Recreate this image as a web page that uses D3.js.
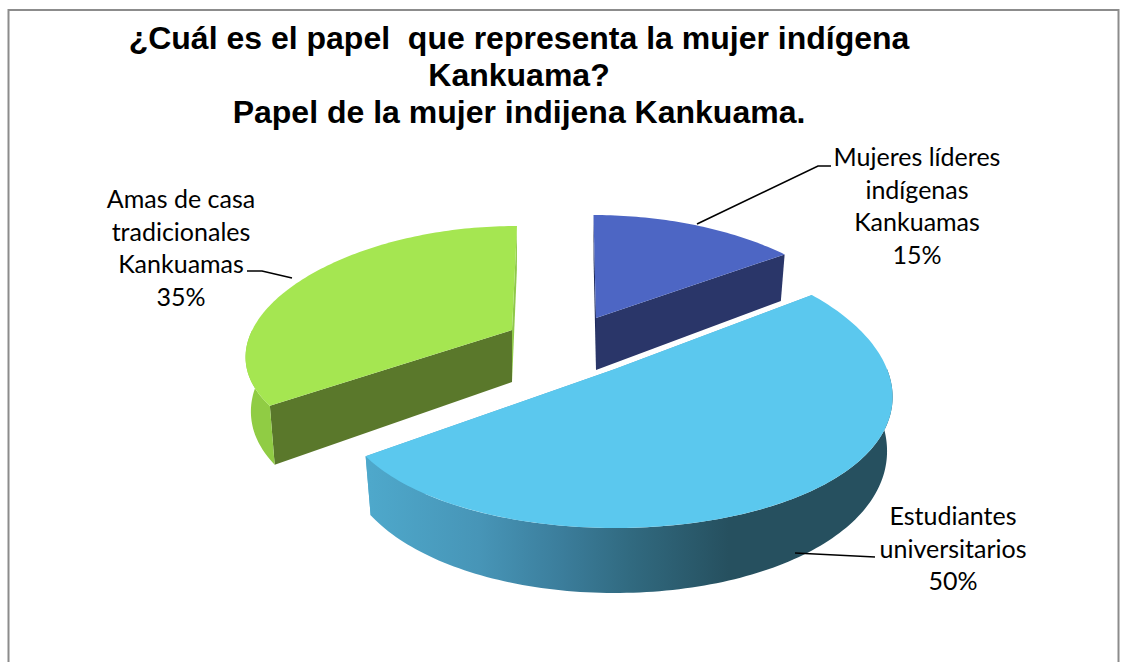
<!DOCTYPE html>
<html>
<head>
<meta charset="utf-8">
<script src="https://cdn.jsdelivr.net/npm/d3@7"></script>
<style>
  html, body { margin: 0; padding: 0; background: #fff; }
  svg { display: block; }
  text { white-space: pre; }
</style>
</head>
<body>
<div id="chartDiv"></div>
<script>
var titleLines = ["¿Cuál es el papel  que representa la mujer indígena", "Kankuama?", "Papel de la mujer indijena Kankuama."];
var categories = ["Mujeres líderes indígenas Kankuamas", "Estudiantes universitarios", "Amas de casa tradicionales Kankuamas"];
var values = [15, 50, 35];
var labelLines = [["Mujeres líderes", "indígenas", "Kankuamas"], ["Estudiantes", "universitarios"], ["Amas de casa", "tradicionales", "Kankuamas"]];

// where each exploded slice sits on the page, drawn back to front
var sliceLayout = [
  {index: 0, cx: 596, cy: 318, sx: 0.966, sy: 0.86, skew: -3, top: "#4d66c4", cutA: "#2a3669", cutB: "#1f2b5e", side: "#2a3669"},
  {index: 2, cx: 512, cy: 330, sx: 0.955, sy: 0.869, skew: 6, top: "#a5e651", cutA: "#8fc94a", cutB: "#5a782b", side: "#90cc44"},
  {index: 1, cx: 615, cy: 369, sx: 1, sy: 1, skew: 0, top: "#5bc8ee", cutA: "#4fa9cd", cutB: "#4fa9cd", side: "url(#sideGrad)"}
];
var labelLayout = [
  {x: 917, y: 166, leader: [[697, 224], [818, 166], [831, 166]]},
  {x: 953, y: 525, leader: [[795, 553], [875, 557]]},
  {x: 181, y: 208, leader: [[292, 278], [262, 271], [247, 271]]}
];

var width = 1124, height = 662;
var radiusX = 272, radiusY = 136, depth = 52, persp = 0.2;

var svg = d3.select("#chartDiv").append("svg").attr("width", width).attr("height", height);

var grad = svg.append("defs").append("linearGradient")
  .attr("id", "sideGrad").attr("gradientUnits", "userSpaceOnUse")
  .attr("x1", 370).attr("x2", 890).attr("y1", 0).attr("y2", 0);
[[0, "#4ea8cb"], [0.21, "#4795b7"], [0.37, "#3b7d9b"], [0.5, "#316a80"], [0.69, "#26505f"], [1, "#26505f"]].forEach(function(s){
  grad.append("stop").attr("offset", s[0]).attr("stop-color", s[1]);
});

svg.append("rect").attr("x", 8.5).attr("y", 10).attr("width", 1110).attr("height", 670)
  .attr("fill", "#fff").attr("stroke", "#8c8c8c").attr("stroke-width", 2);

svg.selectAll(".title").data(titleLines).enter().append("text")
  .attr("class", "title")
  .attr("x", 519)
  .attr("y", function(d, i){ return 49 + i * 37; })
  .attr("text-anchor", "middle")
  .attr("font-family", "Liberation Sans")
  .attr("font-weight", "bold")
  .attr("font-size", 32)
  .text(function(d){ return d; });

var arcs = d3.pie().sort(null).value(function(d){ return d; })(values);

// angle runs clockwise from the top of the disc, near side gets bigger
function project(s, a, r, low){
  var p = 1 / (1 + persp * Math.cos(a) * r);
  var x = s.cx + s.sx * radiusX * Math.sin(a) * r * p + s.skew * Math.cos(a) * r * p;
  var y = s.cy - s.sy * radiusY * Math.cos(a) * r * Math.pow(p, 0.7);
  if (low) {
    // bottom rim pulls in a little towards the middle
    x = s.cx + (x - s.cx) * 0.98;
    y += depth * p;
  }
  return [x, y];
}

function rim(s, a0, a1, low){
  var n = Math.max(2, Math.ceil(Math.abs(a1 - a0) / 0.02));
  return d3.range(n + 1).map(function(i){
    return project(s, a0 + (a1 - a0) * i / n, 1, low);
  });
}

var line = d3.line();

function cutFace(s, a){
  return line([project(s, a, 0, false), project(s, a, 1, false), project(s, a, 1, true), project(s, a, 0, true)]) + "Z";
}

sliceLayout.forEach(function(s){
  var arc = arcs[s.index];
  var g = svg.append("g");
  var a0 = arc.startAngle, a1 = arc.endAngle;

  g.append("path").attr("d", cutFace(s, a1)).attr("fill", s.cutA);
  g.append("path").attr("d", cutFace(s, a0)).attr("fill", s.cutB);

  var sideStart = Math.max(a0, Math.PI / 2), sideEnd = Math.min(a1, Math.PI * 1.5);
  if (sideEnd > sideStart) {
    var pts = rim(s, sideStart, sideEnd, false).concat(rim(s, sideEnd, sideStart, true));
    g.append("path").attr("d", line(pts) + "Z").attr("fill", s.side);
  }

  g.append("path")
    .attr("d", line([project(s, 0, 0, false)].concat(rim(s, a0, a1, false))) + "Z")
    .attr("fill", s.top);
});

var labels = svg.selectAll(".label").data(arcs).enter().append("g").attr("class", "label");

labels.append("path")
  .attr("d", function(d, i){ return line(labelLayout[i].leader); })
  .attr("fill", "none").attr("stroke", "#000").attr("stroke-width", 1.6);

labels.each(function(d, i){
  var rows = labelLines[i].concat([d.value + "%"]);
  d3.select(this).selectAll("text").data(rows).enter().append("text")
    .attr("x", labelLayout[i].x)
    .attr("y", function(t, j){ return labelLayout[i].y + j * 32.7; })
    .attr("text-anchor", "middle")
    .attr("font-family", "Lato")
    .attr("font-size", 25)
    .attr("fill", "#000")
    .text(function(t){ return t; });
});
</script>
</body>
</html>
